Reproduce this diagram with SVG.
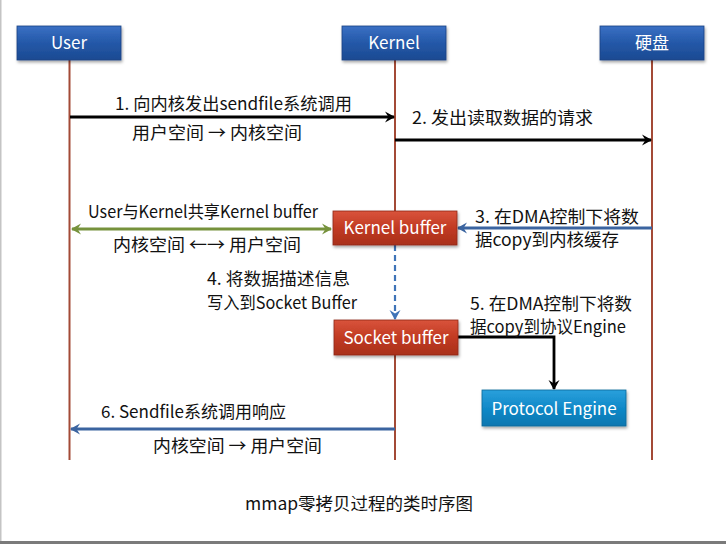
<svg xmlns="http://www.w3.org/2000/svg" width="726" height="544" viewBox="0 0 726 544">
<defs>
<linearGradient id="gBlue" x1="0" y1="0" x2="0" y2="1">
<stop offset="0" stop-color="#3a70c4"/><stop offset="0.5" stop-color="#2458a8"/><stop offset="1" stop-color="#1b4a92"/>
</linearGradient>
<linearGradient id="gRed" x1="0" y1="0" x2="0" y2="1">
<stop offset="0" stop-color="#d9543c"/><stop offset="0.5" stop-color="#c13a22"/><stop offset="1" stop-color="#a9301c"/>
</linearGradient>
<linearGradient id="gCyan" x1="0" y1="0" x2="0" y2="1">
<stop offset="0" stop-color="#2aa0dc"/><stop offset="0.5" stop-color="#1189c8"/><stop offset="1" stop-color="#0d77b0"/>
</linearGradient>
<filter id="sh" x="-10%" y="-20%" width="125%" height="150%">
<feDropShadow dx="1" dy="2" stdDeviation="1.5" flood-color="#000" flood-opacity="0.35"/>
</filter>
<marker id="aBlack" markerWidth="12" markerHeight="12" refX="9" refY="6" orient="auto" markerUnits="userSpaceOnUse">
<path d="M0,0.5 L10,6 L0,11.5 L3.5,6 Z" fill="#000"/>
</marker>
<marker id="aBlue" markerWidth="12" markerHeight="12" refX="9" refY="6" orient="auto" markerUnits="userSpaceOnUse">
<path d="M0,0.5 L10,6 L0,11.5 L3.5,6 Z" fill="#3b64a0"/>
</marker>
<marker id="aDash" markerWidth="12" markerHeight="12" refX="9" refY="6" orient="auto" markerUnits="userSpaceOnUse">
<path d="M0,0.5 L10,6 L0,11.5 L3.5,6 Z" fill="#3f74b8"/>
</marker>
<marker id="aGreenE" markerWidth="12" markerHeight="12" refX="9" refY="6" orient="auto" markerUnits="userSpaceOnUse">
<path d="M0,0.5 L10,6 L0,11.5 L3.5,6 Z" fill="#76923c"/>
</marker>
<marker id="aGreenS" markerWidth="12" markerHeight="12" refX="3" refY="6" orient="auto" markerUnits="userSpaceOnUse">
<path d="M12,0.5 L2,6 L12,11.5 L8.5,6 Z" fill="#76923c"/>
</marker>
</defs>
<style>
.t{font-family:"Noto Sans CJK SC","Noto Sans",sans-serif;font-size:17px;fill:#111}
.h{font-family:"Noto Sans CJK SC","Noto Sans",sans-serif;font-size:17px;fill:#fff;text-anchor:middle}
.life{stroke:#a34a36;stroke-width:2;fill:none}
</style>
<rect x="0" y="0" width="726" height="544" fill="#fff"/>
<rect x="0" y="0" width="1.5" height="544" fill="#c4c4c4"/>
<rect x="0" y="541" width="726" height="3" fill="#7a7a7a"/>

<g id="lifelines">
<line class="life" x1="69.5" y1="60" x2="69.5" y2="460"/>
<line class="life" x1="395" y1="60" x2="395" y2="211"/>
<line class="life" x1="395" y1="355" x2="395" y2="460"/>
<line class="life" x1="652" y1="60" x2="652" y2="460"/>
</g>

<g id="connectors">
<line x1="70" y1="117" x2="394" y2="117" stroke="#000" stroke-width="2.8" marker-end="url(#aBlack)"/>
<line x1="395" y1="140" x2="651" y2="140" stroke="#000" stroke-width="2.8" marker-end="url(#aBlack)"/>
<line x1="72" y1="229" x2="331" y2="229" stroke="#76923c" stroke-width="2.8" marker-start="url(#aGreenS)" marker-end="url(#aGreenE)"/>
<line x1="652" y1="228" x2="458" y2="228" stroke="#3b64a0" stroke-width="2.8" marker-end="url(#aBlue)"/>
<line x1="395" y1="245" x2="395" y2="319" stroke="#3f74b8" stroke-width="2.2" stroke-dasharray="6,4" marker-end="url(#aDash)"/>
<polyline points="458,337 554,337 554,389" fill="none" stroke="#000" stroke-width="2.8" marker-end="url(#aBlack)"/>
<line x1="395" y1="429" x2="71" y2="429" stroke="#3b64a0" stroke-width="2.8" marker-end="url(#aBlue)"/>
</g>

<g id="user">
<rect x="17" y="26" width="104" height="34" fill="url(#gBlue)" stroke="#1a4283" stroke-width="0.8" filter="url(#sh)"/>
<text class="h" x="69" y="49">User</text>
</g>
<g id="kernel">
<rect x="342" y="26" width="104" height="34" fill="url(#gBlue)" stroke="#1a4283" stroke-width="0.8" filter="url(#sh)"/>
<text class="h" x="394" y="49">Kernel</text>
</g>
<g id="disk">
<rect x="600" y="26" width="104" height="34" fill="url(#gBlue)" stroke="#1a4283" stroke-width="0.8" filter="url(#sh)"/>
<text class="h" x="652" y="49">硬盘</text>
</g>
<g id="kernel-buffer">
<rect x="333" y="211" width="124" height="34" fill="url(#gRed)" stroke="#8e2a18" stroke-width="0.8" filter="url(#sh)"/>
<text class="h" x="395" y="234">Kernel buffer</text>
</g>
<g id="socket-buffer">
<rect x="334" y="320" width="124" height="35" fill="url(#gRed)" stroke="#8e2a18" stroke-width="0.8" filter="url(#sh)"/>
<text class="h" x="396" y="343.5">Socket buffer</text>
</g>
<g id="protocol-engine">
<rect x="482" y="390" width="144" height="36" fill="url(#gCyan)" stroke="#0b6698" stroke-width="0.8" filter="url(#sh)"/>
<text class="h" x="554" y="414.5">Protocol Engine</text>
</g>

<g id="labels">
<text class="t" x="115" y="110" textLength="237" lengthAdjust="spacingAndGlyphs">1. 向内核发出sendfile系统调用</text>
<text class="t" x="132" y="139" textLength="170" lengthAdjust="spacingAndGlyphs">用户空间 → 内核空间</text>
<text class="t" x="412" y="124" textLength="181" lengthAdjust="spacingAndGlyphs">2. 发出读取数据的请求</text>
<text class="t" x="88" y="218" textLength="230" lengthAdjust="spacingAndGlyphs">User与Kernel共享Kernel buffer</text>
<text class="t" x="113" y="251" textLength="188" lengthAdjust="spacingAndGlyphs">内核空间 ←→ 用户空间</text>
<text class="t" x="475" y="222.5" textLength="164" lengthAdjust="spacingAndGlyphs">3. 在DMA控制下将数</text>
<text class="t" x="475" y="246" textLength="144" lengthAdjust="spacingAndGlyphs">据copy到内核缓存</text>
<text class="t" x="207" y="285" textLength="143" lengthAdjust="spacingAndGlyphs">4. 将数据描述信息</text>
<text class="t" x="207" y="309" textLength="150" lengthAdjust="spacingAndGlyphs">写入到Socket Buffer</text>
<text class="t" x="470" y="309.5" textLength="162" lengthAdjust="spacingAndGlyphs">5. 在DMA控制下将数</text>
<text class="t" x="470" y="333" textLength="156" lengthAdjust="spacingAndGlyphs">据copy到协议Engine</text>
<text class="t" x="101" y="418" textLength="185" lengthAdjust="spacingAndGlyphs">6. Sendfile系统调用响应</text>
<text class="t" x="153" y="452" textLength="169" lengthAdjust="spacingAndGlyphs">内核空间 → 用户空间</text>
<text class="t" x="245" y="510" textLength="228" lengthAdjust="spacingAndGlyphs">mmap零拷贝过程的类时序图</text>
</g>
</svg>
